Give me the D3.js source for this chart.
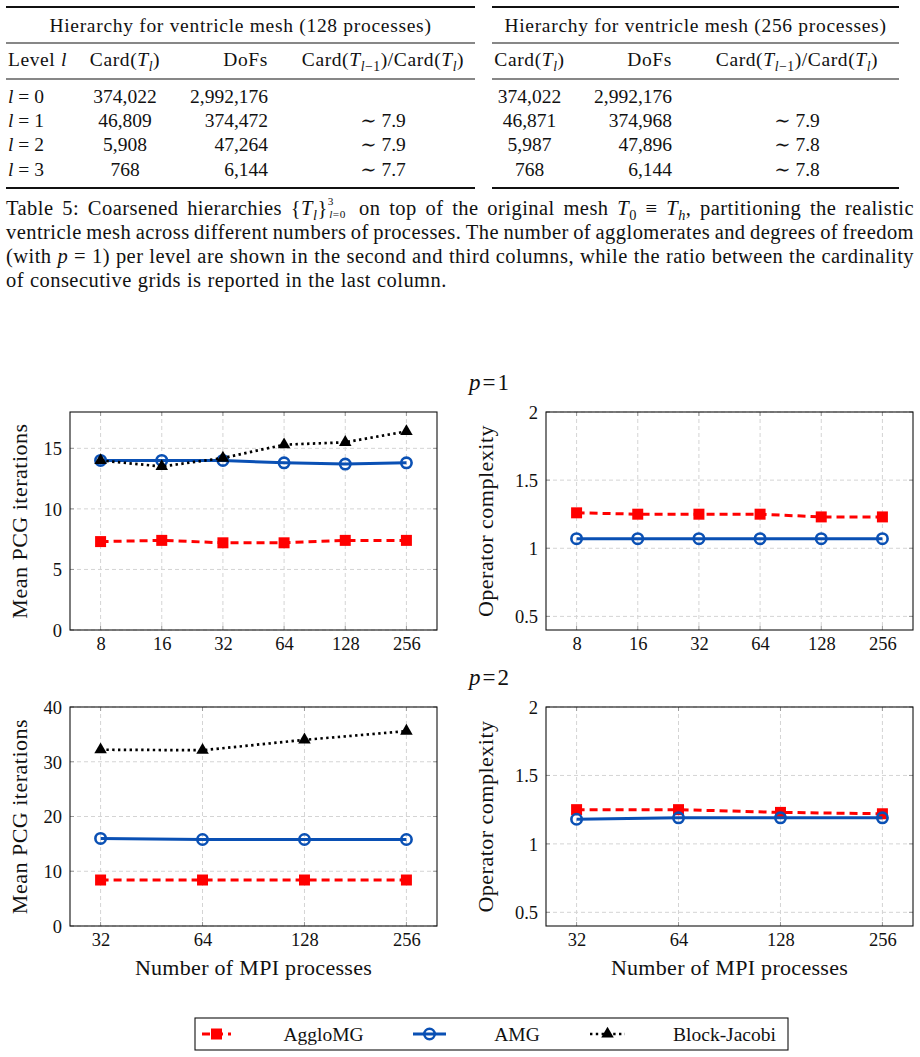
<!DOCTYPE html>
<html lang="en">
<head>
<meta charset="UTF-8">
<title>Ventricle mesh hierarchies and PCG scalability</title>
<script src="https://cdn.jsdelivr.net/npm/d3@7"></script>
<style>
  body { margin: 0; background: #fff; }
  svg { display: block; fill: #111; font-family: "Liberation Serif", "DejaVu Serif", serif; }
</style>
</head>
<body>
<script>
  // ---- table data ----
  const levels = [0, 1, 2, 3];
  const card128 = [374022, 46809, 5908, 768];
  const dofs128 = [2992176, 374472, 47264, 6144];
  const ratio128 = [null, 7.9, 7.9, 7.7];
  const card256 = [374022, 46871, 5987, 768];
  const dofs256 = [2992176, 374968, 47896, 6144];
  const ratio256 = [null, 7.9, 7.8, 7.8];

  // ---- chart data ----
  const methods = ['AggloMG', 'AMG', 'Block-Jacobi'];
  const procsP1 = [8, 16, 32, 64, 128, 256];
  const itersP1Agglo = [7.3, 7.4, 7.2, 7.2, 7.4, 7.4];
  const itersP1Amg = [14.0, 14.0, 14.0, 13.8, 13.7, 13.8];
  const itersP1Bj = [14.0, 13.5, 14.2, 15.3, 15.5, 16.4];
  const opcP1Agglo = [1.26, 1.25, 1.25, 1.25, 1.23, 1.23];
  const opcP1Amg = [1.07, 1.07, 1.07, 1.07, 1.07, 1.07];
  const procsP2 = [32, 64, 128, 256];
  const itersP2Agglo = [8.4, 8.4, 8.4, 8.4];
  const itersP2Amg = [16.0, 15.8, 15.8, 15.8];
  const itersP2Bj = [32.2, 32.1, 34.0, 35.6];
  const opcP2Agglo = [1.25, 1.25, 1.23, 1.22];
  const opcP2Amg = [1.18, 1.19, 1.19, 1.19];
  const iterTicksP1 = [0, 5, 10, 15];
  const iterTicksP2 = [0, 10, 20, 30, 40];
  const opcTicks = [0.5, 1, 1.5, 2];

  const W = 920, H = 1057;
  const svg = d3.select('body').append('svg').attr('width', W).attr('height', H);
  svg.append('rect').attr('width', W).attr('height', H).attr('fill', '#fff');

  // text with italic / sub / sup pieces
  function rich(sel, parts) {
    let shift = 0;
    parts.forEach(p => {
      if (typeof p === 'string') p = { t: p };
      const want = p.shift != null ? p.shift : p.pos === 'sub' ? 5 : p.pos === 'sup' ? -8 : 0;
      const ts = sel.append('tspan').text(p.t);
      if (want !== shift) { ts.attr('dy', want - shift); shift = want; }
      if (p.dx) ts.attr('dx', p.dx);
      if (p.it) ts.attr('font-style', 'italic');
      if (p.pos) ts.attr('font-size', p.fs || '0.7em');
    });
    return sel;
  }

  const T = { t: 'T', it: true };
  const cardParts = ['Card(', T, { t: 'l', it: true, pos: 'sub' }, ')'];
  const ratioParts = ['Card(', T, { t: 'l', it: true, pos: 'sub' }, { t: '−1', pos: 'sub' }, ')/Card(', T, { t: 'l', it: true, pos: 'sub' }, ')'];
  const fmt = d3.format(',');

  // ---- tables ----
  const rowY = d3.scaleLinear().domain([0, 3]).range([103, 175.5]);

  function drawTable(x0, x1, title, cols) {
    const g = svg.append('g').attr('font-size', 19.5);
    [[7, 2], [43, 1.2], [79, 1.2], [188, 2]].forEach(([y, w]) => {
      g.append('line').attr('x1', x0).attr('x2', x1).attr('y1', y).attr('y2', y)
        .attr('stroke', '#111').attr('stroke-width', w);
    });
    g.append('text').attr('x', (x0 + x1) / 2).attr('y', 32).attr('text-anchor', 'middle')
      .attr('letter-spacing', 0.7).text(title);
    cols.forEach(c => {
      rich(g.append('text').attr('x', c.x).attr('y', 66).attr('text-anchor', c.anchor)
        .attr('letter-spacing', 0.6), c.head);
      levels.forEach(i => {
        rich(g.append('text').attr('x', c.x).attr('y', rowY(i)).attr('text-anchor', c.anchor), c.cell(i));
      });
    });
  }

  drawTable(6, 475, 'Hierarchy for ventricle mesh (128 processes)', [
    { x: 8, anchor: 'start', head: ['Level ', { t: 'l', it: true }], cell: i => [{ t: 'l', it: true }, ' = ' + levels[i]] },
    { x: 125, anchor: 'middle', head: cardParts, cell: i => [fmt(card128[i])] },
    { x: 268, anchor: 'end', head: ['DoFs'], cell: i => [fmt(dofs128[i])] },
    { x: 383, anchor: 'middle', head: ratioParts, cell: i => [ratio128[i] ? '∼ ' + ratio128[i] : ''] }
  ]);
  drawTable(492, 899, 'Hierarchy for ventricle mesh (256 processes)', [
    { x: 529.5, anchor: 'middle', head: cardParts, cell: i => [fmt(card256[i])] },
    { x: 672, anchor: 'end', head: ['DoFs'], cell: i => [fmt(dofs256[i])] },
    { x: 797, anchor: 'middle', head: ratioParts, cell: i => [ratio256[i] ? '∼ ' + ratio256[i] : ''] }
  ]);

  // ---- caption, justified ----
  const words = s => s.split(' ').map(w => [w]);
  const captionLines = [
    [...words('Table 5: Coarsened hierarchies'),
      ['{', T, { t: 'l', it: true, pos: 'sub' }, '}',
        { t: '3', pos: 'sup', shift: -10, fs: '0.55em' },
        { t: 'l', it: true, pos: 'sub', shift: 3, fs: '0.55em', dx: -4.5 },
        { t: '=0', pos: 'sub', shift: 3, fs: '0.55em' }],
      ...words('on top of the original mesh'),
      [T, { t: '0', pos: 'sub' }], ['≡'], [T, { t: 'h', it: true, pos: 'sub' }, ','],
      ...words('partitioning the realistic')],
    words('ventricle mesh across different numbers of processes. The number of agglomerates and degrees of freedom'),
    [['(with'], [{ t: 'p', it: true }], ['='], ['1)'],
      ...words('per level are shown in the second and third columns, while the ratio between the cardinality')],
    words('of consecutive grids is reported in the last column.')
  ];
  const capG = svg.append('g').attr('font-size', 20.5).attr('letter-spacing', 0.45);
  captionLines.forEach((line, li) => {
    const y = 215 + li * 24;
    const nodes = line.map(w => rich(capG.append('text').attr('y', y), w));
    const widths = nodes.map(n => n.node().getComputedTextLength());
    const total = d3.sum(widths);
    const last = li === captionLines.length - 1;
    const gap = last ? 6 : (908 - total) / (line.length - 1);
    let x = 6;
    nodes.forEach((n, k) => { n.attr('x', x); x += widths[k] + gap; });
  });

  // ---- charts ----
  const blue = '#0a50b4';
  const styles = {
    'AggloMG': { color: '#ff0000', width: 3, dash: '8,5', mark: d3.symbolSquare, size: 121, fill: '#ff0000' },
    'AMG': { color: blue, width: 3, dash: null, mark: d3.symbolCircle, size: 85, fill: 'none' },
    'Block-Jacobi': { color: '#000', width: 2.7, dash: '2.4,3.4', mark: d3.symbolTriangle, size: 68, fill: '#000' }
  };

  const panels = [
    { x0: 70, x1: 437, y0: 412, y1: 630, procs: procsP1, pad: 0.5, yDom: [0, 18], yTicks: iterTicksP1,
      yLabel: 'Mean PCG iterations', labX: 27, series: [itersP1Agglo, itersP1Amg, itersP1Bj] },
    { x0: 546, x1: 913, y0: 412, y1: 630, procs: procsP1, pad: 0.5, yDom: [0.4, 2], yTicks: opcTicks,
      yLabel: 'Operator complexity', labX: 493, series: [opcP1Agglo, opcP1Amg] },
    { x0: 70, x1: 437, y0: 707, y1: 926, procs: procsP2, pad: 0.3, yDom: [0, 40], yTicks: iterTicksP2,
      yLabel: 'Mean PCG iterations', labX: 27, series: [itersP2Agglo, itersP2Amg, itersP2Bj], xLabel: true },
    { x0: 546, x1: 913, y0: 707, y1: 926, procs: procsP2, pad: 0.3, yDom: [0.4, 2], yTicks: opcTicks,
      yLabel: 'Operator complexity', labX: 493, series: [opcP2Agglo, opcP2Amg], xLabel: true }
  ];

  panels.forEach(p => {
    const g = svg.append('g');
    const n = p.procs.length;
    const x = d3.scaleLog().base(2)
      .domain([p.procs[0] / 2 ** p.pad, p.procs[n - 1] * 2 ** p.pad]).range([p.x0, p.x1]);
    const y = d3.scaleLinear().domain(p.yDom).range([p.y1, p.y0]);

    // grid
    g.selectAll('.gx').data(p.procs).enter().append('line')
      .attr('x1', d => x(d)).attr('x2', d => x(d)).attr('y1', p.y0).attr('y2', p.y1)
      .attr('stroke', '#d4d4d4').attr('stroke-dasharray', '4,3');
    g.selectAll('.gy').data(p.yTicks).enter().append('line')
      .attr('x1', p.x0).attr('x2', p.x1).attr('y1', d => y(d)).attr('y2', d => y(d))
      .attr('stroke', '#d4d4d4').attr('stroke-dasharray', '4,3');
    // small inner ticks
    p.procs.forEach(d => {
      [[p.y1, p.y1 - 4], [p.y0, p.y0 + 4]].forEach(([a, b]) =>
        g.append('line').attr('x1', x(d)).attr('x2', x(d)).attr('y1', a).attr('y2', b).attr('stroke', '#999'));
    });
    p.yTicks.forEach(d => {
      [[p.x0, p.x0 + 4], [p.x1, p.x1 - 4]].forEach(([a, b]) =>
        g.append('line').attr('x1', a).attr('x2', b).attr('y1', y(d)).attr('y2', y(d)).attr('stroke', '#999'));
    });

    // axes
    const ax = g.append('g').attr('transform', `translate(0,${p.y1})`)
      .call(d3.axisBottom(x).tickValues(p.procs).tickFormat(d3.format('d')).tickSize(0));
    ax.select('.domain').remove();
    ax.attr('font-family', null);
    ax.selectAll('text').attr('y', 20).attr('dy', null).attr('font-size', 18.5).attr('fill', '#111');
    const ay = g.append('g').attr('transform', `translate(${p.x0},0)`)
      .call(d3.axisLeft(y).tickValues(p.yTicks).tickFormat(d3.format('~g')).tickSize(0).tickPadding(8));
    ay.select('.domain').remove();
    ay.attr('font-family', null);
    ay.selectAll('text').attr('font-size', 18.5).attr('fill', '#111').attr('dy', '0.34em');

    g.append('rect').attr('x', p.x0).attr('y', p.y0).attr('width', p.x1 - p.x0).attr('height', p.y1 - p.y0)
      .attr('fill', 'none').attr('stroke', '#111').attr('stroke-width', 1.1);

    g.append('text').attr('transform', `translate(${p.labX},${(p.y0 + p.y1) / 2}) rotate(-90)`)
      .attr('text-anchor', 'middle').attr('font-size', 22).attr('letter-spacing', 0.5).text(p.yLabel);
    if (p.xLabel) {
      g.append('text').attr('x', (p.x0 + p.x1) / 2).attr('y', 975).attr('text-anchor', 'middle')
        .attr('font-size', 22).attr('letter-spacing', 0.3).text('Number of MPI processes');
    }

    // series
    p.series.forEach((vals, si) => {
      const st = styles[methods[si]];
      const pts = vals.map((v, i) => [p.procs[i], v]);
      g.append('path').datum(pts)
        .attr('d', d3.line().x(d => x(d[0])).y(d => y(d[1])))
        .attr('fill', 'none').attr('stroke', st.color).attr('stroke-width', st.width)
        .attr('stroke-dasharray', st.dash);
      g.selectAll(null).data(pts).enter().append('path')
        .attr('transform', d => `translate(${x(d[0])},${y(d[1])})`)
        .attr('d', d3.symbol().type(st.mark).size(st.size))
        .attr('fill', st.fill).attr('stroke', st.fill === 'none' ? st.color : 'none')
        .attr('stroke-width', 2.6);
    });
  });

  // p labels
  [[390, '1'], [685, '2']].forEach(([yy, v]) => {
    rich(svg.append('text').attr('x', 469).attr('y', yy).attr('font-size', 23),
      [{ t: 'p', it: true }, { t: '=', dx: 2 }, { t: v, dx: 2 }]);
  });

  // ---- legend ----
  const leg = svg.append('g').attr('font-size', 19.5);
  leg.append('rect').attr('x', 195).attr('y', 1018).attr('width', 593).attr('height', 32)
    .attr('fill', '#fff').attr('stroke', '#111').attr('stroke-width', 1.1);
  const legItems = [[202, 231, 323.5], [413, 446, 517], [590, 625, 724.5]];
  methods.forEach((m, i) => {
    const st = styles[m];
    const [a, b, tx] = legItems[i];
    const ly = 1034;
    leg.append('line').attr('x1', a).attr('x2', b).attr('y1', ly).attr('y2', ly)
      .attr('stroke', st.color).attr('stroke-width', st.width).attr('stroke-dasharray', st.dash);
    leg.append('path').attr('transform', `translate(${(a + b) / 2},${ly})`)
      .attr('d', d3.symbol().type(st.mark).size(st.size))
      .attr('fill', st.fill).attr('stroke', st.fill === 'none' ? st.color : 'none').attr('stroke-width', 2.6);
    leg.append('text').attr('x', tx).attr('y', ly + 6.5).attr('text-anchor', 'middle').text(m);
  });
</script>
</body>
</html>
